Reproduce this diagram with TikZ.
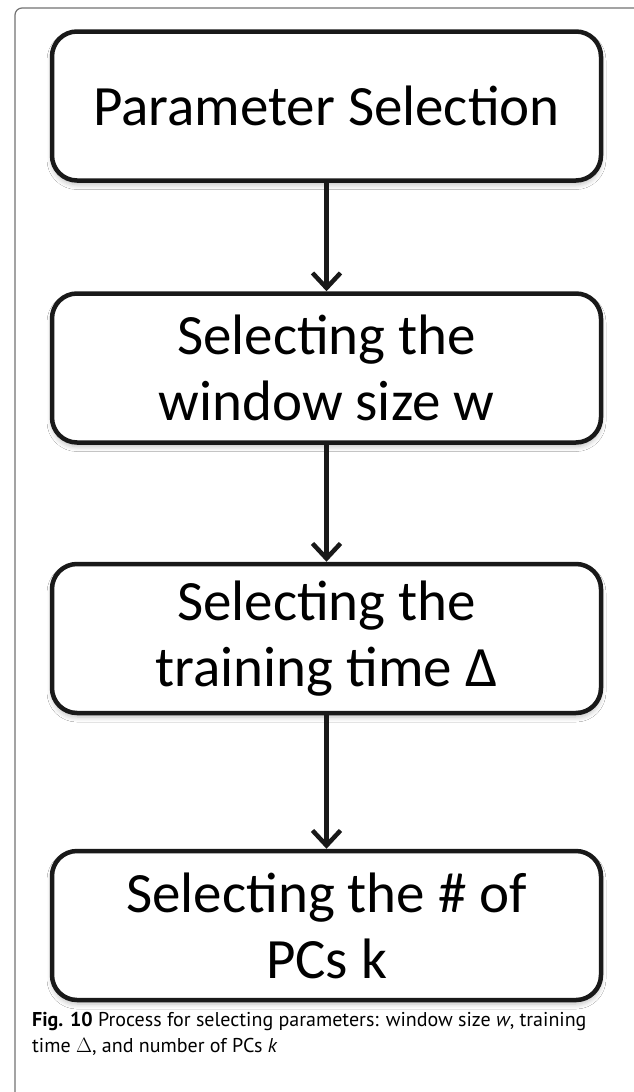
\documentclass[tikz,border=0pt]{standalone}
\usepackage{fontspec}
\setmainfont{Carlito}
\newfontfamily\capfont{PT Sans}
\usetikzlibrary{arrows.meta,shadows.blur}
\tikzset{
  stepbox/.style={draw=black!90, line width=4.5pt, rounded corners=25pt, fill=white,
    minimum width=549pt, minimum height=149pt, align=center, inner sep=0pt,
    font=\fontsize{57}{66}\selectfont,
    blur shadow={shadow xshift=0pt, shadow yshift=-4pt, shadow blur steps=6, shadow blur radius=5pt, shadow opacity=25}},
  flow/.style={line width=4.5pt, draw=black!90, -{Straight Barb[length=15pt,width=28pt,line width=4.5pt]}},
  framel/.style={draw=black!55, line width=1.2pt, rounded corners=7pt}
}
\begin{document}
\begin{tikzpicture}[x=1pt,y=-1pt]
\useasboundingbox (0,0) rectangle (634,1092);
\fill[white] (0,0) rectangle (634,1092);
\coordinate (fb) at (15,1100);
\coordinate (fr) at (640,8);
\draw[framel] (fb) |- (fr);
\node[stepbox] (s1) at (326.5,106) {Parameter Selection};
\node[stepbox] (s2) at (326.5,368) {Selecting the\\window size w};
\node[stepbox] (s3) at (326.5,638.5) {Selecting the\\training time Δ};
\node[stepbox] (s4) at (326.5,925.5) {Selecting the \# of\\PCs k};
\draw[flow] (s1.south) -- (s2.north);
\draw[flow] (s2.south) -- (s3.north);
\draw[flow] (s3.south) -- (s4.north);
\node[anchor=base west, inner sep=0pt, align=left, font=\capfont\fontsize{20}{26}\selectfont] (cap) at (32,1052)
  {\textbf{Fig. 10} Process for selecting parameters: window size \textit{w}, training\\time $\Delta$, and number of PCs \textit{k}};
\end{tikzpicture}
\end{document}
